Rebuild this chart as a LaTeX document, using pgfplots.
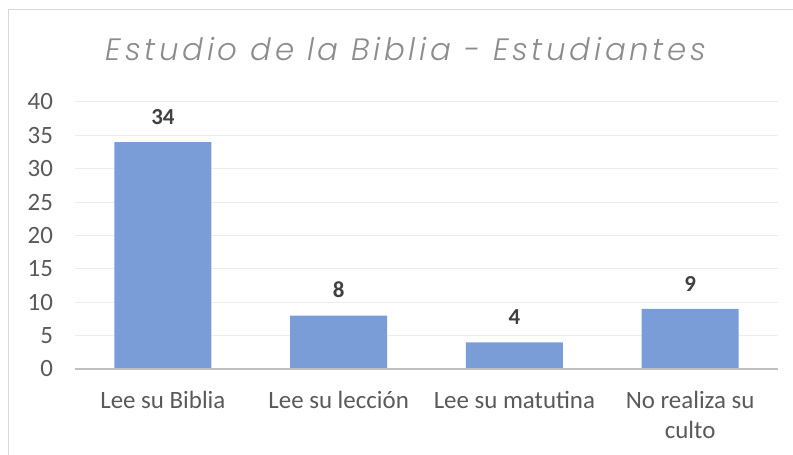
\documentclass[border=0pt]{standalone}
\usepackage{fontspec}
\setmainfont{Carlito}
\newfontfamily\titlefont{Poppins Light Italic}[LetterSpace=12]
\usepackage{pgfplots}
\pgfplotsset{compat=1.18}
\definecolor{barblue}{HTML}{7A9DD8}
\definecolor{gridgray}{HTML}{EDEDED}
\definecolor{axisgray}{HTML}{BFBFBF}
\definecolor{ticktext}{HTML}{595959}
\definecolor{labeltext}{HTML}{404040}
\definecolor{titletext}{HTML}{8C8C8C}
\definecolor{framegray}{HTML}{D9D9D9}
\begin{document}
\begin{tikzpicture}[x=1bp,y=1bp]
\useasboundingbox (-75,-86) rectangle (718,369);
\draw[framegray, line width=1bp] (-66,-90) -- (-66,359) -- (725,359);
\begin{axis}[
  at={(0,0)}, anchor=south west,
  scale only axis, width=703bp, height=267bp,
  xmin=-0.5, xmax=3.5, ymin=0, ymax=40,
  ytick={0,5,...,40},
  xtick={0,1,2,3},
  xticklabels={Lee su Biblia, Lee su lección, Lee su matutina, {No realiza su\\culto}},
  axis line style={draw=none},
  axis x line*=bottom, axis y line*=left,
  major tick length=0pt,
  ymajorgrids, grid style={gridgray, line width=1bp},
  /pgf/number format/assume math mode=true,
  tick label style={font=\fontsize{25}{30}\selectfont, text=ticktext},
  yticklabel style={anchor=east, xshift=-18.5bp},
  xticklabel style={align=center, anchor=north, yshift=-19bp, font=\fontsize{25}{30}\selectfont},
  ybar, bar width=97bp,
  nodes near coords,
  every node near coord/.append style={font=\bfseries\fontsize{23}{26}\selectfont, text=labeltext, anchor=south, yshift=14bp},
  clip=false,
]
\addplot[fill=barblue, draw=none] coordinates {(0,34) (1,8) (2,4) (3,9)};
\draw[axisgray, line width=2bp] (axis cs:-0.5,0) -- (axis cs:3.5,0);
\end{axis}
\node[anchor=base, text=titletext, font=\titlefont\fontsize{31}{34}\selectfont] at (331,308) {Estudio de la Biblia - Estudiantes};
\end{tikzpicture}
\end{document}
